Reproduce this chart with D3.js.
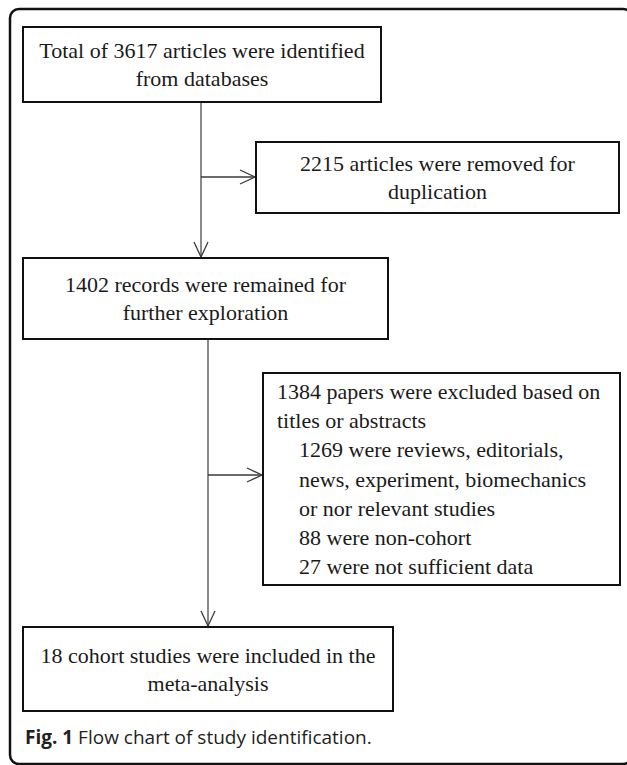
<!DOCTYPE html>
<html>
<meta charset="utf-8" />
<script src="https://cdn.jsdelivr.net/npm/d3@7/dist/d3.min.js"></script>
<style>
  html, body { margin: 0; padding: 0; background: #fff; }
  .box rect { fill: #fff; stroke: #111; stroke-width: 2; }
  .box text { font-family: "Liberation Serif", "Times New Roman", serif; font-size: 22px; fill: #1a1a1a; }
  .trunk { stroke: #8a8a8a; stroke-width: 2; fill: none; }
  .branch { stroke: #3a3a3a; stroke-width: 1.3; fill: none; }
  .head { stroke: #3a3a3a; stroke-width: 1.3; fill: none; }
  .caption { font-family: "Open Sans", sans-serif; font-size: 19px; fill: #231f20; }
</style>
<body>
<div id="chart"></div>
<script>
// ---- data ----
var stepIds = ['identified', 'duplicates', 'remained', 'excluded', 'included'];
var stepLines = [
  ['Total of 3617 articles were identified', 'from databases'],
  ['2215 articles were removed for', 'duplication'],
  ['1402 records were remained for', 'further exploration'],
  ['1384 papers were excluded based on', 'titles or abstracts',
   '1269 were reviews, editorials,', 'news, experiment, biomechanics',
   'or nor relevant studies', '88 were non-cohort', '27 were not sufficient data'],
  ['18 cohort studies were included in the', 'meta-analysis']
];
var excludedIndent = [0, 0, 1, 1, 1, 1, 1];
var mainFlow = [['identified', 'remained'], ['remained', 'included']];
var sideFlow = [['identified', 'duplicates'], ['remained', 'excluded']];
var captionBold = 'Fig. 1';
var captionRest = ' Flow chart of study identification.';

// ---- layout ----
var W = 627, H = 765;
var layout = {
  identified: { x0: 23, x1: 381, y0: 27, y1: 102, align: 'middle', lh: 28 },
  duplicates: { x0: 256, x1: 619, y0: 142, y1: 213, align: 'middle', lh: 28 },
  remained:   { x0: 23, x1: 388, y0: 258, y1: 339, align: 'middle', lh: 28 },
  excluded:   { x0: 263, x1: 620, y0: 373, y1: 585, align: 'start', lh: 29.3, pad: 14, indent: 22 },
  included:   { x0: 23, x1: 393, y0: 627, y1: 711, align: 'middle', lh: 28 }
};
var trunkX = { identified: 201, remained: 208 };
var branchY = { duplicates: 177, excluded: 475 };

var svg = d3.select('#chart').append('svg')
  .attr('width', W).attr('height', H);

// outer frame
svg.append('rect')
  .attr('x', 10).attr('y', 9)
  .attr('width', 622).attr('height', 755)
  .attr('rx', 9)
  .attr('fill', 'none').attr('stroke', '#111').attr('stroke-width', 2.5);

function arrowHead(g, x, y, dir) {
  var len = 15, half = 7;
  var p = dir === 'down'
    ? [[x - half, y - len], [x, y], [x + half, y - len]]
    : [[x - len, y - half], [x, y], [x - len, y + half]];
  g.append('path').attr('class', 'head').attr('d', d3.line()(p));
}

var links = svg.append('g');
mainFlow.forEach(function (f) {
  var a = layout[f[0]], b = layout[f[1]], x = trunkX[f[0]];
  links.append('line').attr('class', 'trunk')
    .attr('x1', x).attr('x2', x).attr('y1', a.y1).attr('y2', b.y0 - 1);
  arrowHead(links, x, b.y0 - 1, 'down');
});
sideFlow.forEach(function (f) {
  var b = layout[f[1]], x = trunkX[f[0]], y = branchY[f[1]];
  links.append('line').attr('class', 'branch')
    .attr('x1', x).attr('x2', b.x0 - 1).attr('y1', y).attr('y2', y);
  arrowHead(links, b.x0 - 1, y, 'right');
});

var boxes = svg.selectAll('g.box')
  .data(stepIds.map(function (id, i) { return { id: id, lines: stepLines[i], L: layout[id] }; }))
  .join('g').attr('class', 'box');

boxes.append('rect')
  .attr('x', function (d) { return d.L.x0; })
  .attr('y', function (d) { return d.L.y0; })
  .attr('width', function (d) { return d.L.x1 - d.L.x0; })
  .attr('height', function (d) { return d.L.y1 - d.L.y0; });

boxes.each(function (d) {
  var L = d.L, n = d.lines.length, cy = (L.y0 + L.y1) / 2;
  d3.select(this).selectAll('text')
    .data(d.lines)
    .join('text')
    .attr('text-anchor', L.align)
    .attr('x', function (t, i) {
      if (L.align === 'middle') return (L.x0 + L.x1) / 2;
      return L.x0 + L.pad + (excludedIndent[i] ? L.indent : 0);
    })
    .attr('y', function (t, i) { return cy + (i - (n - 1) / 2) * L.lh + 7.5; })
    .text(function (t) { return t; });
});

var cap = svg.append('text').attr('class', 'caption').attr('x', 25).attr('y', 744);
cap.append('tspan').attr('font-weight', 'bold').text(captionBold);
cap.append('tspan').text(captionRest);
</script>
</body>
</html>
